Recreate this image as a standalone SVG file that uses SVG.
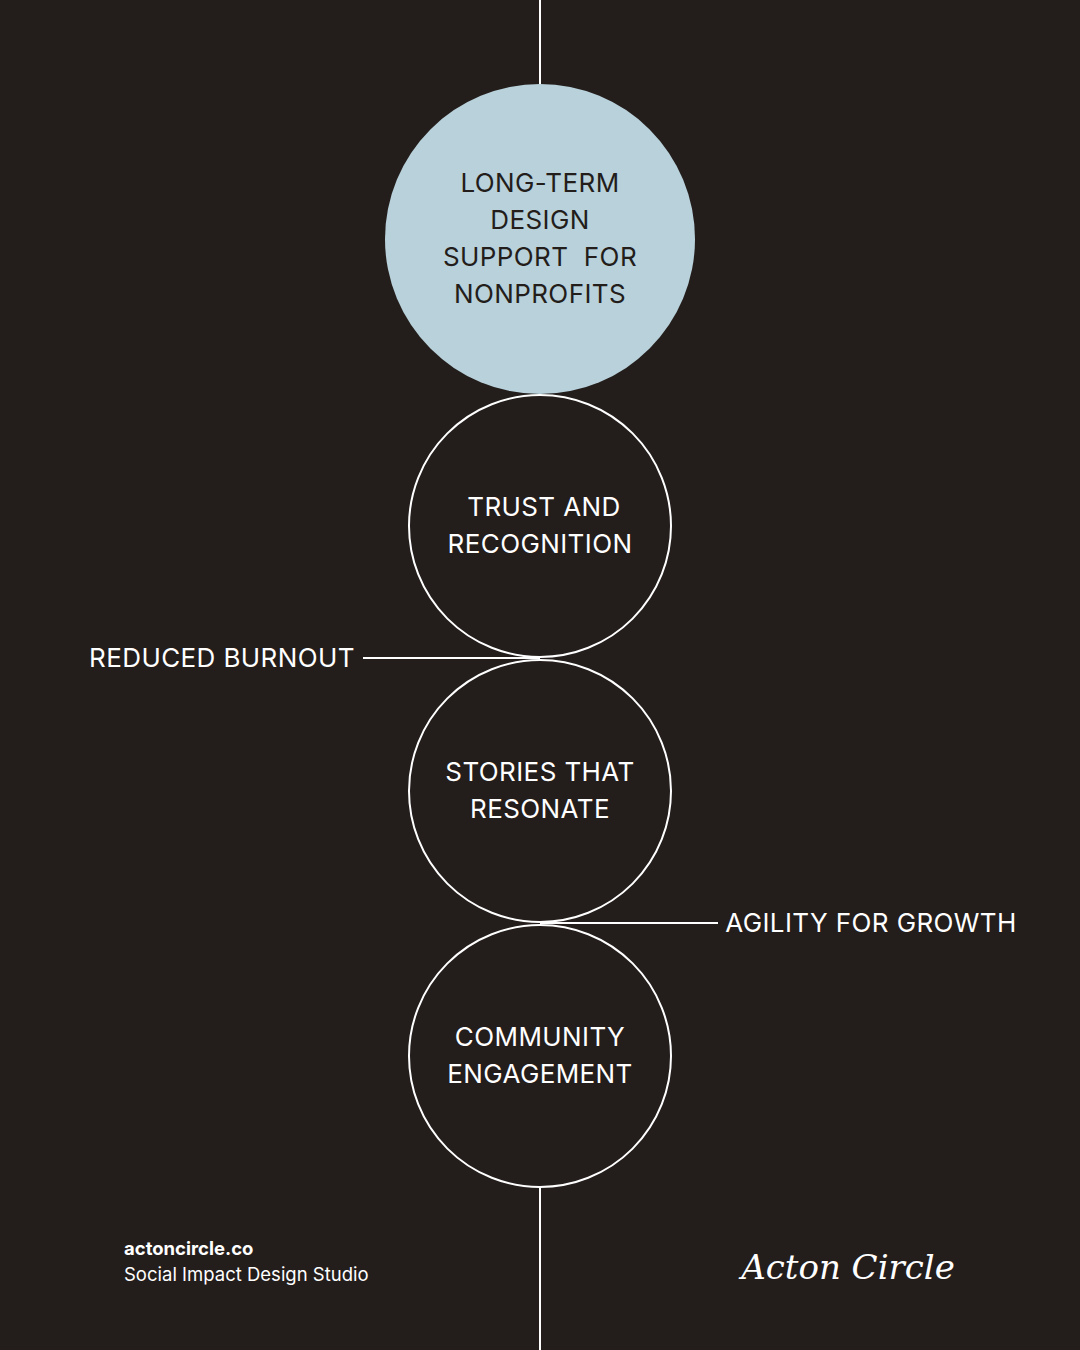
<svg xmlns="http://www.w3.org/2000/svg" width="1080" height="1350" viewBox="0 0 1080 1350">
<style>
.t{font-family:Inter,"Liberation Sans",sans-serif;font-size:26px;fill:#ffffff;text-anchor:middle;letter-spacing:0.4px}
.c{fill:none;stroke:#ffffff;stroke-width:2}
.l{stroke:#ffffff;stroke-width:2}
</style>
<rect width="1080" height="1350" fill="#231d1b"/>
<g id="connectors">
<line class="l" x1="540" y1="0" x2="540" y2="85"/>
<line class="l" x1="540" y1="1187" x2="540" y2="1350"/>
<line class="l" x1="363" y1="658" x2="540" y2="658"/>
<line class="l" x1="540" y1="923" x2="718" y2="923"/>
</g>
<g id="n1">
<circle cx="540" cy="239" r="155" fill="#b8d1da"/>
<text class="t" style="fill:#231d1b" x="540" y="192">LONG-TERM</text>
<text class="t" style="fill:#231d1b" x="540" y="229">DESIGN</text>
<text class="t" style="fill:#231d1b" x="540" y="266" xml:space="preserve">SUPPORT  FOR</text>
<text class="t" style="fill:#231d1b" x="540" y="303">NONPROFITS</text>
</g>
<g id="n2">
<circle class="c" cx="540" cy="526" r="131"/>
<text class="t" x="544" y="516">TRUST AND</text>
<text class="t" x="540" y="553">RECOGNITION</text>
</g>
<g id="n3">
<circle class="c" cx="540" cy="791" r="131"/>
<text class="t" x="540" y="781">STORIES THAT</text>
<text class="t" x="540" y="818">RESONATE</text>
</g>
<g id="n4">
<circle class="c" cx="540" cy="1056" r="131"/>
<text class="t" x="540" y="1046">COMMUNITY</text>
<text class="t" x="540" y="1083">ENGAGEMENT</text>
</g>
<g id="labels">
<text class="t" x="222" y="667">REDUCED BURNOUT</text>
<text class="t" x="871" y="932">AGILITY FOR GROWTH</text>
</g>
<g id="footer">
<text x="124" y="1255" style="font-family:Inter,'Liberation Sans',sans-serif;font-size:18.5px;font-weight:bold;fill:#fff">actoncircle.co</text>
<text x="124" y="1281" style="font-family:Inter,'Liberation Sans',sans-serif;font-size:18.5px;fill:#fff">Social Impact Design Studio</text>
<text x="848" y="1279" style="font-family:'DejaVu Serif',serif;font-style:italic;font-size:34px;fill:#fff;text-anchor:middle">Acton Circle</text>
</g>
</svg>
